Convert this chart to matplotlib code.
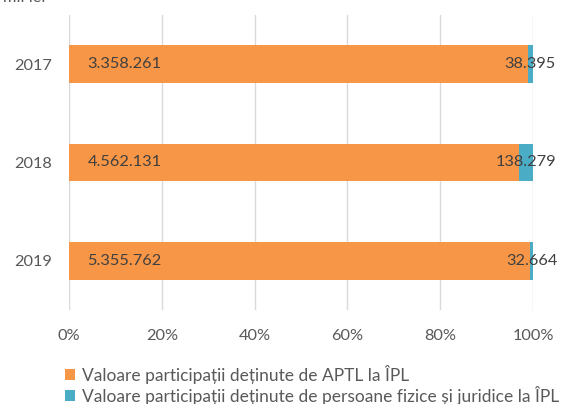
import matplotlib.pyplot as plt

plt.rcParams["font.family"] = ["Lato", "DejaVu Sans"]

years = ["2017", "2018", "2019"]
aptl_values = [3358261, 4562131, 5355762]
private_values = [38395, 138279, 32664]
aptl_labels = ["3.358.261", "4.562.131", "5.355.762"]
private_labels = ["38.395", "138.279", "32.664"]
legend_labels = [
    "Valoare participații deținute de APTL la ÎPL",
    "Valoare participații deținute de persoane fizice și juridice la ÎPL",
]
x_ticks = [0, 20, 40, 60, 80, 100]

ORANGE = "#F79646"
BLUE = "#4BACC6"
TEXT = "#404040"
TICK = "#595959"


def main() -> None:
    fig = plt.figure(figsize=(5.72, 4.04), dpi=100)
    fig.patch.set_facecolor("white")
    ax = fig.add_axes([0.1206, 0.2327, 0.8112, 0.7303])

    totals = [a + p for a, p in zip(aptl_values, private_values)]
    aptl_pct = [a / t * 100 for a, t in zip(aptl_values, totals)]
    private_pct = [p / t * 100 for p, t in zip(private_values, totals)]
    ypos = list(range(len(years)))

    h1 = ax.barh(ypos, aptl_pct, height=0.385, color=ORANGE, label=legend_labels[0], zorder=2)
    h2 = ax.barh(ypos, private_pct, left=aptl_pct, height=0.385, color=BLUE,
                 label=legend_labels[1], zorder=2)

    for y, lab in zip(ypos, aptl_labels):
        ax.text(4.0, y, lab, va="center", ha="left", fontsize=11.8, color=TEXT, zorder=3)
    for y, lab, left, w in zip(ypos, private_labels, aptl_pct, private_pct):
        ax.text(left + w / 2, y, lab, va="center", ha="center", fontsize=11.8,
                color=TEXT, zorder=3)

    ax.set_xlim(0, 100)
    ax.set_ylim(len(years) - 0.5, -0.5)
    ax.set_xticks(x_ticks)
    ax.set_xticklabels([f"{t}%" for t in x_ticks])
    ax.set_yticks(ypos)
    ax.set_yticklabels(years)
    ax.grid(True, axis="x", color="#D9D9D9", linewidth=1, zorder=0)
    ax.tick_params(length=0, labelsize=11.8, labelcolor=TICK)
    ax.tick_params(axis="x", pad=14)
    ax.tick_params(axis="y", pad=12)
    for spine in ax.spines.values():
        spine.set_visible(False)

    fig.legend(
        handles=[h1, h2],
        loc="upper left",
        bbox_to_anchor=(0.098, 0.118),
        frameon=False,
        fontsize=12.5,
        labelcolor=TICK,
        handlelength=0.6,
        handleheight=0.6,
        handletextpad=0.4,
        labelspacing=0.1,
        borderpad=0,
    )

    fig.text(0.005, 1.005, "mii lei", ha="left", va="center", fontsize=11.8, color=TICK)

    fig.savefig("out.png", dpi=100)
    plt.close(fig)


if __name__ == "__main__":
    main()
